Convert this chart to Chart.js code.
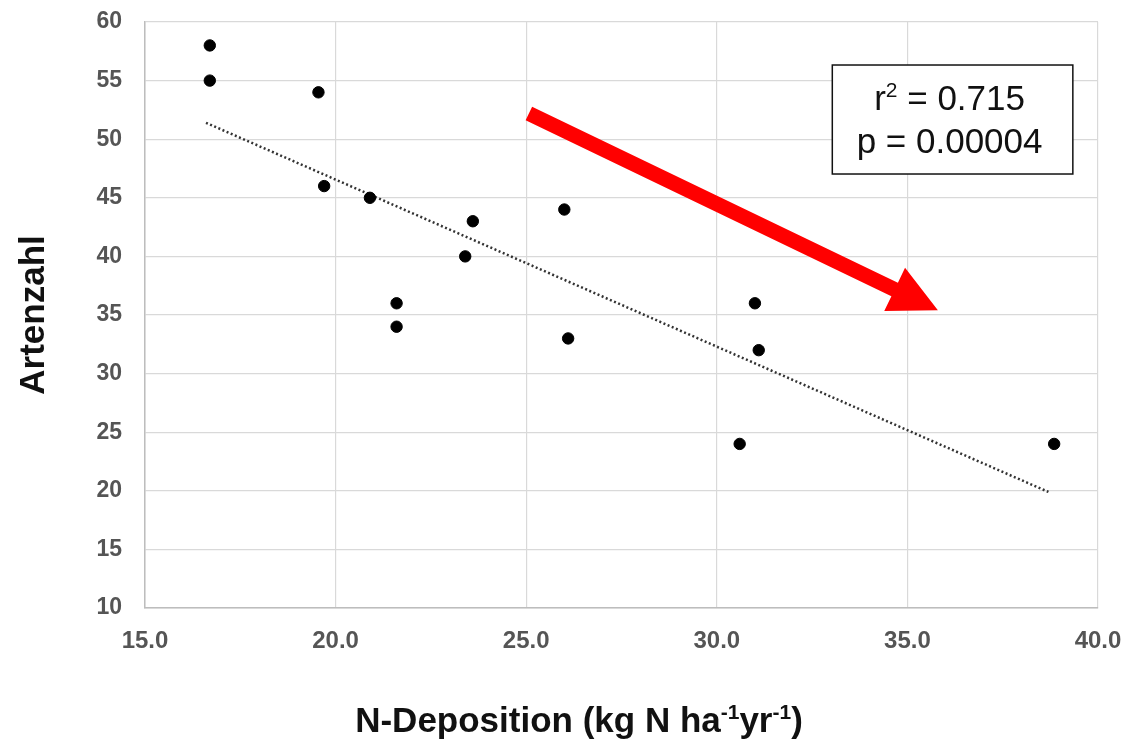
<!DOCTYPE html>
<html>
<head>
<meta charset="utf-8">
<script src="https://cdn.jsdelivr.net/npm/chart.js@4.4.0/dist/chart.umd.min.js"></script>
<style>
  html, body { margin: 0; padding: 0; background: #fff; }
  #wrap { width: 1125px; height: 746px; }
</style>
</head>
<body>
<div id="wrap"><canvas id="myChart" width="1125" height="746"></canvas></div>
<script>
// values
const deposition = [16.7, 16.7, 19.55, 19.7, 20.9, 21.6, 21.6, 23.4, 23.6, 26.0, 26.1, 30.6, 31.0, 31.1, 38.85];
const speciesCount = [58, 55, 54, 46, 45, 36, 34, 40, 43, 44, 33, 24, 36, 32, 24];
const trendX = [16.6, 38.7];
const trendY = [51.4, 19.9];
const xTickLabels = ['15.0', '20.0', '25.0', '30.0', '35.0', '40.0'];
const yTickLabels = [10, 15, 20, 25, 30, 35, 40, 45, 50, 55, 60];
const statsText = ['0.715', '0.00004'];

const FONT = "'Liberation Sans', Arial, sans-serif";

// annotations (in data units)
const arrowFrom = [25.07, 52.2];
const arrowTo = [35.8, 35.4];
const statsBox = { x1: 33.03, x2: 39.34, y1: 56.33, y2: 47.03 };

const extras = {
  id: 'extras',
  afterDraw(chart) {
    const { ctx, scales: { x, y } } = chart;
    ctx.save();

    // red arrow
    const sx = x.getPixelForValue(arrowFrom[0]), sy = y.getPixelForValue(arrowFrom[1]);
    const tx = x.getPixelForValue(arrowTo[0]), ty = y.getPixelForValue(arrowTo[1]);
    const len = Math.hypot(tx - sx, ty - sy);
    const ux = (tx - sx) / len, uy = (ty - sy) / len;
    const nx = -uy, ny = ux;
    const headLen = 48, headHalf = 24, shaftHalf = 7.5;
    const bx = tx - ux * headLen, by = ty - uy * headLen;
    ctx.fillStyle = '#ff0000';
    ctx.beginPath();
    ctx.moveTo(sx + nx * shaftHalf, sy + ny * shaftHalf);
    ctx.lineTo(bx + nx * shaftHalf, by + ny * shaftHalf);
    ctx.lineTo(bx + nx * headHalf, by + ny * headHalf);
    ctx.lineTo(tx, ty);
    ctx.lineTo(bx - nx * headHalf, by - ny * headHalf);
    ctx.lineTo(bx - nx * shaftHalf, by - ny * shaftHalf);
    ctx.lineTo(sx - nx * shaftHalf, sy - ny * shaftHalf);
    ctx.closePath();
    ctx.fill();

    // stats box
    const l = x.getPixelForValue(statsBox.x1), r = x.getPixelForValue(statsBox.x2);
    const t = y.getPixelForValue(statsBox.y1), b = y.getPixelForValue(statsBox.y2);
    ctx.fillStyle = '#fff';
    ctx.fillRect(l, t, r - l, b - t);
    ctx.strokeStyle = '#111';
    ctx.lineWidth = 1.5;
    ctx.strokeRect(l, t, r - l, b - t);

    const cx = (l + r) / 2 - 3;
    ctx.fillStyle = '#111';
    ctx.textBaseline = 'alphabetic';
    ctx.textAlign = 'left';
    // line 1: r² = 0.715
    const big = '35px ' + FONT, small = '21px ' + FONT;
    ctx.font = big;
    const wr = ctx.measureText('r').width;
    const wrest = ctx.measureText(' = ' + statsText[0]).width;
    ctx.font = small;
    const w2 = ctx.measureText('2').width;
    let px = cx - (wr + w2 + wrest) / 2;
    const base1 = t + 45;
    ctx.font = big;
    ctx.fillText('r', px, base1); px += wr;
    ctx.font = small;
    ctx.fillText('2', px, base1 - 13); px += w2;
    ctx.font = big;
    ctx.fillText(' = ' + statsText[0], px, base1);
    // line 2
    ctx.textAlign = 'center';
    ctx.fillText('p = ' + statsText[1], cx, t + 88);

    // x axis title with superscripts
    const parts = [
      ['N-Deposition (kg N ha', false], ['-1', true], ['yr', false], ['-1', true], [')', false]
    ];
    const tBig = 'bold 35px ' + FONT, tSmall = 'bold 21px ' + FONT;
    let total = 0;
    parts.forEach(p => { ctx.font = p[1] ? tSmall : tBig; total += ctx.measureText(p[0]).width; });
    ctx.textAlign = 'left';
    let qx = 579 - total / 2;
    const base = 732;
    parts.forEach(p => {
      ctx.font = p[1] ? tSmall : tBig;
      ctx.fillText(p[0], qx, p[1] ? base - 13 : base);
      qx += ctx.measureText(p[0]).width;
    });

    ctx.restore();
  }
};

new Chart(document.getElementById('myChart').getContext('2d'), {
  type: 'scatter',
  data: {
    datasets: [
      {
        label: 'Artenzahl',
        data: deposition.map((v, i) => ({ x: v, y: speciesCount[i] })),
        backgroundColor: '#000',
        borderColor: '#000',
        pointRadius: 5.7,
        order: 1
      },
      {
        label: 'Trend',
        type: 'line',
        data: trendX.map((v, i) => ({ x: v, y: trendY[i] })),
        borderColor: '#333',
        borderWidth: 2.5,
        borderDash: [2, 2.5],
        pointRadius: 0,
        fill: false,
        order: 2
      }
    ]
  },
  options: {
    responsive: false,
    animation: false,
    layout: { padding: { top: 22, right: 27, bottom: 0, left: 0 } },
    plugins: { legend: { display: false }, tooltip: { enabled: false } },
    scales: {
      x: {
        type: 'linear',
        min: 15, max: 40,
        afterFit: s => { s.height = 138; s.paddingLeft = 0; s.paddingRight = 0; },
        afterBuildTicks: s => { s.ticks = xTickLabels.map(v => ({ value: parseFloat(v) })); },
        ticks: {
          callback: (v) => xTickLabels.find(l => parseFloat(l) === v),
          color: '#555',
          font: { family: FONT, size: 24, weight: 'bold' },
          padding: 19,
          maxRotation: 0
        },
        grid: { color: '#d9d9d9', lineWidth: 1.2, drawTicks: false },
        border: { color: '#bdbdbd', width: 1.5 }
      },
      y: {
        min: 10, max: 60,
        afterFit: s => { s.width = 145; s.paddingTop = 0; s.paddingBottom = 0; },
        afterBuildTicks: s => { s.ticks = yTickLabels.map(v => ({ value: v })); },
        ticks: {
          color: '#555',
          font: { family: FONT, size: 23, weight: 'bold' },
          padding: 23
        },
        grid: { color: '#d9d9d9', lineWidth: 1.2, drawTicks: false },
        border: { color: '#bdbdbd', width: 1.5 },
        title: {
          display: true,
          text: 'Artenzahl',
          color: '#111',
          font: { family: FONT, size: 35, weight: 'bold' },
          padding: { top: 13, bottom: 0 }
        }
      }
    }
  },
  plugins: [extras]
});
</script>
</body>
</html>
